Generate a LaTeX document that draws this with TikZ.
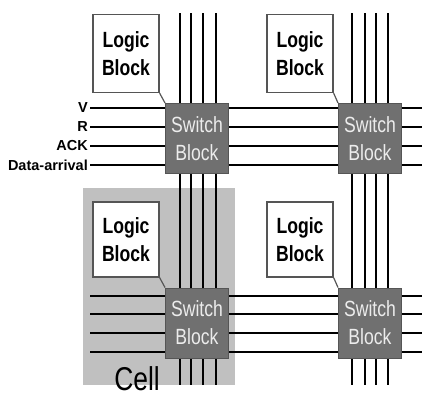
\documentclass[tikz,border=0pt]{standalone}
\usepackage{fontspec}
\setmainfont{Liberation Sans}
\newfontfamily\narrowfont{Liberation Sans}[FakeStretch=0.8]
\usepackage{xcolor}
\usepackage{tikz}
\usetikzlibrary{positioning}
\definecolor{cellgray}{RGB}{192,192,192}
\definecolor{switchgray}{RGB}{112,112,112}
\definecolor{switchedge}{RGB}{85,85,85}
\definecolor{switchtext}{RGB}{236,236,236}

\begin{document}
\begin{tikzpicture}[
    x=1pt, y=-1pt,
    every node/.style={align=center, inner sep=0pt},
    logicbox/.style={draw=switchedge, line width=1.3pt, fill=white,
        minimum width=66pt, minimum height=78pt,
        font=\narrowfont\bfseries\fontsize{22}{28}\selectfont},
    switchbox/.style={draw=switchedge, line width=1pt, fill=switchgray,
        text=switchtext, minimum width=63pt, minimum height=70pt,
        font=\narrowfont\fontsize{22}{28}\selectfont},
    wire/.style={line width=2.2pt, black},
    track/.style={line width=1.5pt, black},
    sig/.style={anchor=east, font=\bfseries\fontsize{14.5}{14.5}\selectfont}
]
\useasboundingbox (0,0) rectangle (422,399);

% Cell
\fill[cellgray] (83,188) rectangle (235,385);
\node[font=\narrowfont\fontsize{33}{33}\selectfont] (cell) at (137,379) {Cell};

% vertical tracks
\foreach \x in {180,191,203,216,352,365,376,388}
    \draw[track] (\x,13) -- (\x,385);

% horizontal wires
\foreach \y in {108,127,146,165,296,314,333,352}
    \draw[wire] (90,\y) -- (422,\y);

% signal names
\node[sig] (v) at (88,108) {V};
\node[sig] (r) at (88,127) {R};
\node[sig] (ack) at (88,146) {ACK};
\node[sig] (data) at (88,165) {Data-arrival};

% switch blocks
\node[switchbox] (sb1) at (197,138.5) {Switch\\Block};
\node[switchbox] (sb2) at (370,138.5) {Switch\\Block};
\node[switchbox] (sb3) at (197,323) {Switch\\Block};
\node[switchbox] (sb4) at (370,323) {Switch\\Block};

% logic blocks
\node[logicbox] (lb1) at (126,53.5) {Logic\\Block};
\node[logicbox] (lb2) at (300,53.5) {Logic\\Block};
\node[logicbox, minimum height=75pt] (lb3) at (126,239.5) {Logic\\Block};
\node[logicbox, minimum height=75pt] (lb4) at (300,239.5) {Logic\\Block};

\foreach \a/\b in {lb1/sb1, lb2/sb2, lb3/sb3, lb4/sb4}
    \draw[switchedge, line width=1.2pt] (\a.south east) -- (\b.north west);
\end{tikzpicture}
\end{document}
